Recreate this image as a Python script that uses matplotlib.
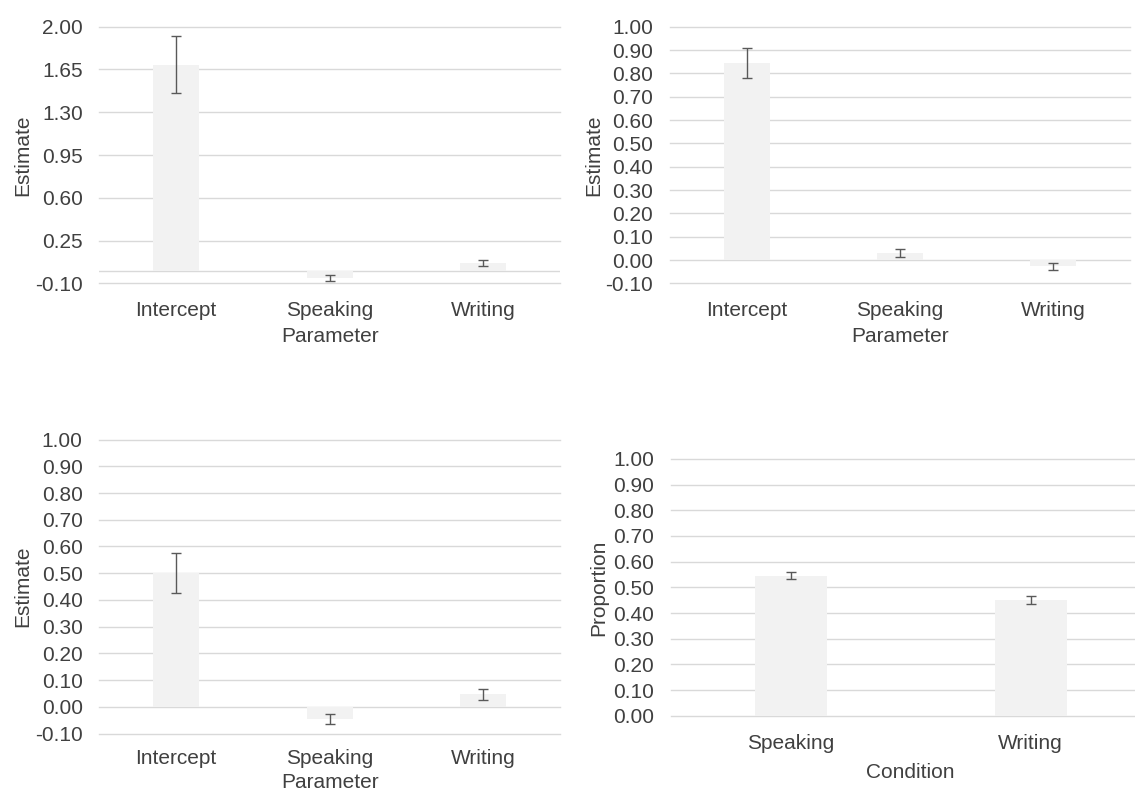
import matplotlib.pyplot as plt

# model 1
params1 = ['Intercept', 'Speaking', 'Writing']
est1 = [1.69, -0.055, 0.065]
err1 = [0.23, 0.025, 0.025]
yticks1 = [-0.10, 0.25, 0.60, 0.95, 1.30, 1.65, 2.00]

# model 2
params2 = ['Intercept', 'Speaking', 'Writing']
est2 = [0.845, 0.03, -0.027]
err2 = [0.065, 0.016, 0.014]

# model 3
params3 = ['Intercept', 'Speaking', 'Writing']
est3 = [0.50, -0.045, 0.047]
err3 = [0.076, 0.018, 0.02]

yticks_est = [-0.10, 0.00, 0.10, 0.20, 0.30, 0.40, 0.50, 0.60, 0.70, 0.80, 0.90, 1.00]

# proportions by condition
conditions = ['Speaking', 'Writing']
prop = [0.545, 0.451]
prop_err = [0.014, 0.015]
yticks_prop = [0.00, 0.10, 0.20, 0.30, 0.40, 0.50, 0.60, 0.70, 0.80, 0.90, 1.00]

plt.rcParams['font.family'] = ['Liberation Sans', 'DejaVu Sans']

BAR = '#f2f2f2'
GRID = '#d9d9d9'
TXT = '#404040'
ERR = '#595959'
FS = 15


def panel(ax, cats, vals, errs, yticks, ylabel, xlabel, zero_line, ylab_x, xlab_y, xpad=13):
    x = range(len(cats))
    ax.bar(x, vals, width=0.3, color=BAR, zorder=2)
    ax.errorbar(x, vals, yerr=errs, fmt='none', ecolor=ERR, elinewidth=1.0,
                capsize=3.5, capthick=1.0, zorder=3)
    ax.set_ylim(yticks[0], yticks[-1])
    ax.set_xlim(-0.5, len(cats) - 0.5)
    ax.set_yticks(yticks)
    ax.set_yticklabels(['%.2f' % t for t in yticks])
    ax.set_xticks(list(x))
    ax.set_xticklabels(cats)
    for t in yticks:
        ax.axhline(t, color=GRID, lw=1, zorder=1, clip_on=False)
    if zero_line:
        ax.axhline(0, color=GRID, lw=1, zorder=1)
    for s in ax.spines.values():
        s.set_visible(False)
    ax.tick_params(axis='y', length=0, pad=12, labelsize=FS, labelcolor=TXT)
    ax.tick_params(axis='x', length=0, pad=xpad, labelsize=FS, labelcolor=TXT)
    ax.set_ylabel(ylabel, fontsize=FS, color=TXT)
    ax.set_xlabel(xlabel, fontsize=FS, color=TXT)
    ax.yaxis.set_label_coords(ylab_x, 0.5)
    ax.xaxis.set_label_coords(0.5, xlab_y)


fig = plt.figure(figsize=(11.35, 7.93), dpi=100)
ax1 = fig.add_axes((0.0875, 0.6427, 0.4059, 0.3236))
ax2 = fig.add_axes((0.5903, 0.6427, 0.4053, 0.3236))
ax3 = fig.add_axes((0.0875, 0.075, 0.4059, 0.3707))
ax4 = fig.add_axes((0.5909, 0.0975, 0.4229, 0.3237))

panel(ax1, params1, est1, err1, yticks1, 'Estimate', 'Parameter', True, -0.145, -0.17)
panel(ax2, params2, est2, err2, yticks_est, 'Estimate', 'Parameter', False, -0.145, -0.17)
panel(ax3, params3, est3, err3, yticks_est, 'Estimate', 'Parameter', False, -0.145, -0.133, xpad=11)
panel(ax4, conditions, prop, prop_err, yticks_prop, 'Proportion', 'Condition', False, -0.13, -0.183)

fig.savefig('out.png', dpi=100, facecolor='white')
